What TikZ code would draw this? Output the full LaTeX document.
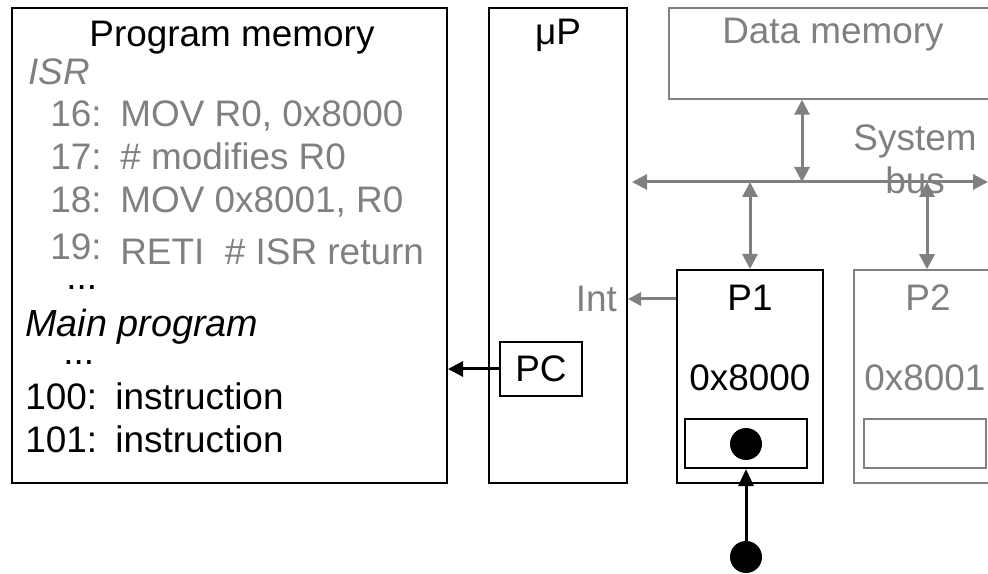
\documentclass[tikz,border=0pt]{standalone}
\usepackage{fontspec}
\setmainfont{Liberation Sans}
\usetikzlibrary{arrows.meta,positioning}
\definecolor{dimgray}{RGB}{128,128,128}

\begin{document}
\begin{tikzpicture}[x=0.2mm,y=-0.2mm,font=\fontsize{21}{25}\selectfont,>={Triangle[length=3mm,width=3mm]},
  box/.style={draw,line width=0.4mm,inner sep=0pt},
  faded/.style={draw=dimgray,text=dimgray},
  bus/.style={dimgray,line width=0.6mm,<->},
  dot/.style={circle,fill=black,inner sep=0pt,minimum size=6.4mm}]
\useasboundingbox (0,0) rectangle (988,574);
\clip (0,0) rectangle (988,574);
% boxes
\node[box,minimum width=87mm,minimum height=95mm] (pm) at (229.5,245.5) {};
\node[box,minimum width=27.6mm,minimum height=95mm] (up) at (558,245.5) {};
\node[box,minimum width=16.4mm,minimum height=10.8mm] (pc) at (541,369) {PC};
\node[box,faded,line width=0.3mm,minimum width=65.6mm,minimum height=18.2mm] (dm) at (833,53.5) {};
\node[box,minimum width=29.2mm,minimum height=42.6mm] (p1) at (750,376.5) {};
\node[box,minimum width=24.4mm,minimum height=9.8mm] (p1reg) at (746,443.5) {};
\node[box,faded,line width=0.3mm,minimum width=29.2mm,minimum height=42.6mm] (p2) at (927,376.5) {};
\node[box,faded,line width=0.3mm,minimum width=24.4mm,minimum height=9.8mm] (p2reg) at (925,443.5) {};
% labels
\node (pmlbl) at (232,38) {Program memory};
\node (uplbl) at (558,35) {μP};
\node[text=dimgray] (dmlbl) at (833,35) {Data memory};
\node (p1lbl) at (750,298) {P1};
\node (p1adr) at (750,378) {0x8000};
\node[text=dimgray] (p2lbl) at (928,298) {P2};
\node[text=dimgray] (p2adr) at (925,378) {0x8001};
\node[text=dimgray,anchor=east,inner sep=1pt] (intlbl) at (619,299) {Int};
\node[text=dimgray] (syslbl) at (915,141) {System};
\node[text=dimgray] (buslbl) at (915,180) {bus};
% program listing
\node[text=dimgray,anchor=base west,inner sep=0pt,font=\fontsize{21}{25}\selectfont\itshape] (isr) at (28,85) {ISR};
\foreach \y/\n/\t in {127/16/{MOV R0, 0x8000},170/17/{\# modifies R0},213/18/{MOV 0x8001, R0}}{
  \node[text=dimgray,anchor=base west,inner sep=0pt] (num\n) at (50,\y) {\n:};
  \node[text=dimgray,anchor=base west,inner sep=0pt] (ins\n) at (120,\y) {\t};
}
\node[text=dimgray,anchor=base west,inner sep=0pt] (num19) at (50,260) {19:};
\node[text=dimgray,anchor=base west,inner sep=0pt] (ins19) at (120,265) {RETI\ \ \# ISR return};
\node[anchor=base west,inner sep=0pt] (dotsA) at (66,290) {...};
\node[anchor=base west,inner sep=0pt,font=\fontsize{21.5}{25}\selectfont\itshape] (main) at (25,337) {Main program};
\node[anchor=base west,inner sep=0pt] (dotsB) at (63,365) {...};
\foreach \y/\n in {410/100,453/101}{
  \node[anchor=base west,inner sep=0pt] (num\n) at (25,\y) {\n:};
  \node[anchor=base west,inner sep=0pt] (ins\n) at (115,\y) {instruction};
}
% dots
\node[dot] (knob) at (746,444) {};
\node[dot] (src) at (746,557) {};
% system bus
\coordinate (busL) at (632,182);
\coordinate (busR) at (988,182);
\coordinate (dmtap) at (802,182);
\draw[bus] (busL) -- (busR);
\draw[bus] (dmtap |- dm.south) -- (dmtap);
\draw[bus] (p1.north |- busL) -- (p1.north);
\draw[bus] (p2.north |- busL) -- (p2.north);
\draw[dimgray,line width=0.6mm,-{Triangle[length=2.6mm,width=2.6mm]}] (intlbl.east -| p1.west) -- (intlbl.east -| up.east);
% black arrows
\draw[line width=0.6mm,->] (pc.west) -- (pc.west -| pm.east);
\draw[line width=0.6mm,-{Triangle[length=3.4mm,width=3mm]}] (src.north) -- (p1reg.south);
\end{tikzpicture}
\end{document}
